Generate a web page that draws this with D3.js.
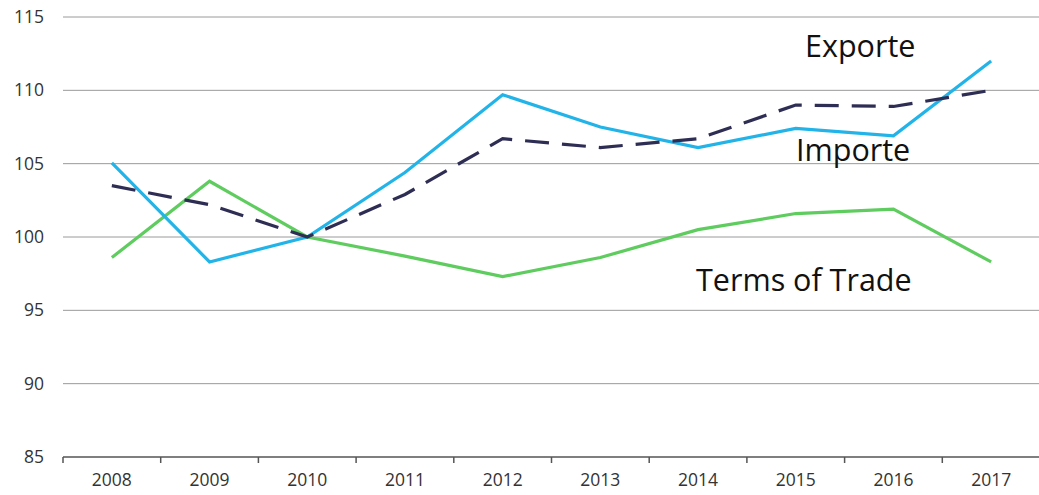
<!DOCTYPE html>
<html>
<head>
<meta charset="utf-8">
<script src="https://cdn.jsdelivr.net/npm/d3@7"></script>
<style>
  body { margin: 0; background: #fff; }
  text { font-family: "Open Sans", "DejaVu Sans", sans-serif; fill: #333; }
</style>
</head>
<body>
<div id="chart"></div>
<script>
var svgWidth = 1039;
var svgHeight = 495;

// data
var years = ["2008", "2009", "2010", "2011", "2012", "2013", "2014", "2015", "2016", "2017"];
var exporte = [103.5, 102.2, 100.0, 102.9, 106.7, 106.1, 106.7, 109.0, 108.9, 110.0];
var importe = [105.05, 98.3, 100.0, 104.4, 109.7, 107.5, 106.1, 107.4, 106.9, 112.0];
var termsOfTrade = [98.6, 103.8, 100.0, 98.7, 97.3, 98.6, 100.5, 101.6, 101.9, 98.3];
var yTicks = [85, 90, 95, 100, 105, 110, 115];

var series = [
  { name: "Exporte", values: exporte, color: "#2e2d54", dash: "24,13", label: [805, 57] },
  { name: "Importe", values: importe, color: "#22b4e8", dash: null, label: [796, 161] },
  { name: "Terms of Trade", values: termsOfTrade, color: "#5fcc5f", dash: null, label: [696, 291] }
];

var svg = d3.select("#chart")
  .append("svg")
  .attr("width", svgWidth)
  .attr("height", svgHeight);

var x = d3.scaleBand()
  .domain(years)
  .range([63, 1040]);

var y = d3.scaleLinear()
  .domain([85, 115])
  .range([457, 17]);

// gridlines
svg.append("g")
  .selectAll("line")
  .data(yTicks.slice(1))
  .enter()
  .append("line")
  .attr("x1", 63)
  .attr("x2", 1039)
  .attr("y1", d => y(d))
  .attr("y2", d => y(d))
  .attr("stroke", "#9a9a9a")
  .attr("stroke-width", 1);

// y labels
svg.append("g")
  .selectAll("text")
  .data(yTicks)
  .enter()
  .append("text")
  .attr("x", 44)
  .attr("y", d => y(d) + 6)
  .attr("text-anchor", "end")
  .style("font-size", "17.5px")
  .text(d => d);

// x axis
var xAxis = svg.append("g")
  .attr("transform", `translate(0, ${y(85)})`);
xAxis.append("line")
  .attr("x1", 63)
  .attr("x2", 1039)
  .attr("stroke", "#555")
  .attr("stroke-width", 1.5);
xAxis.selectAll(".tick")
  .data(years)
  .enter()
  .append("line")
  .attr("x1", d => x(d))
  .attr("x2", d => x(d))
  .attr("y1", 0)
  .attr("y2", 6)
  .attr("stroke", "#555")
  .attr("stroke-width", 1.5);
xAxis.selectAll("text")
  .data(years)
  .enter()
  .append("text")
  .attr("x", d => x(d) + x.bandwidth() / 2)
  .attr("y", 29)
  .attr("text-anchor", "middle")
  .style("font-size", "17.5px")
  .text(d => d);

// lines
var line = d3.line()
  .x((d, i) => x(years[i]) + x.bandwidth() / 2)
  .y(d => y(d));

series.slice().reverse().forEach(function(s) {
  svg.append("path")
    .datum(s.values)
    .attr("d", line)
    .attr("fill", "none")
    .attr("stroke", s.color)
    .attr("stroke-width", 3.2)
    .attr("stroke-dasharray", s.dash);
});

// series labels
svg.append("g")
  .selectAll("text")
  .data(series)
  .enter()
  .append("text")
  .attr("x", d => d.label[0])
  .attr("y", d => d.label[1])
  .style("font-size", "30.5px")
  .style("fill", "#111")
  .text(d => d.name);
</script>
</body>
</html>
